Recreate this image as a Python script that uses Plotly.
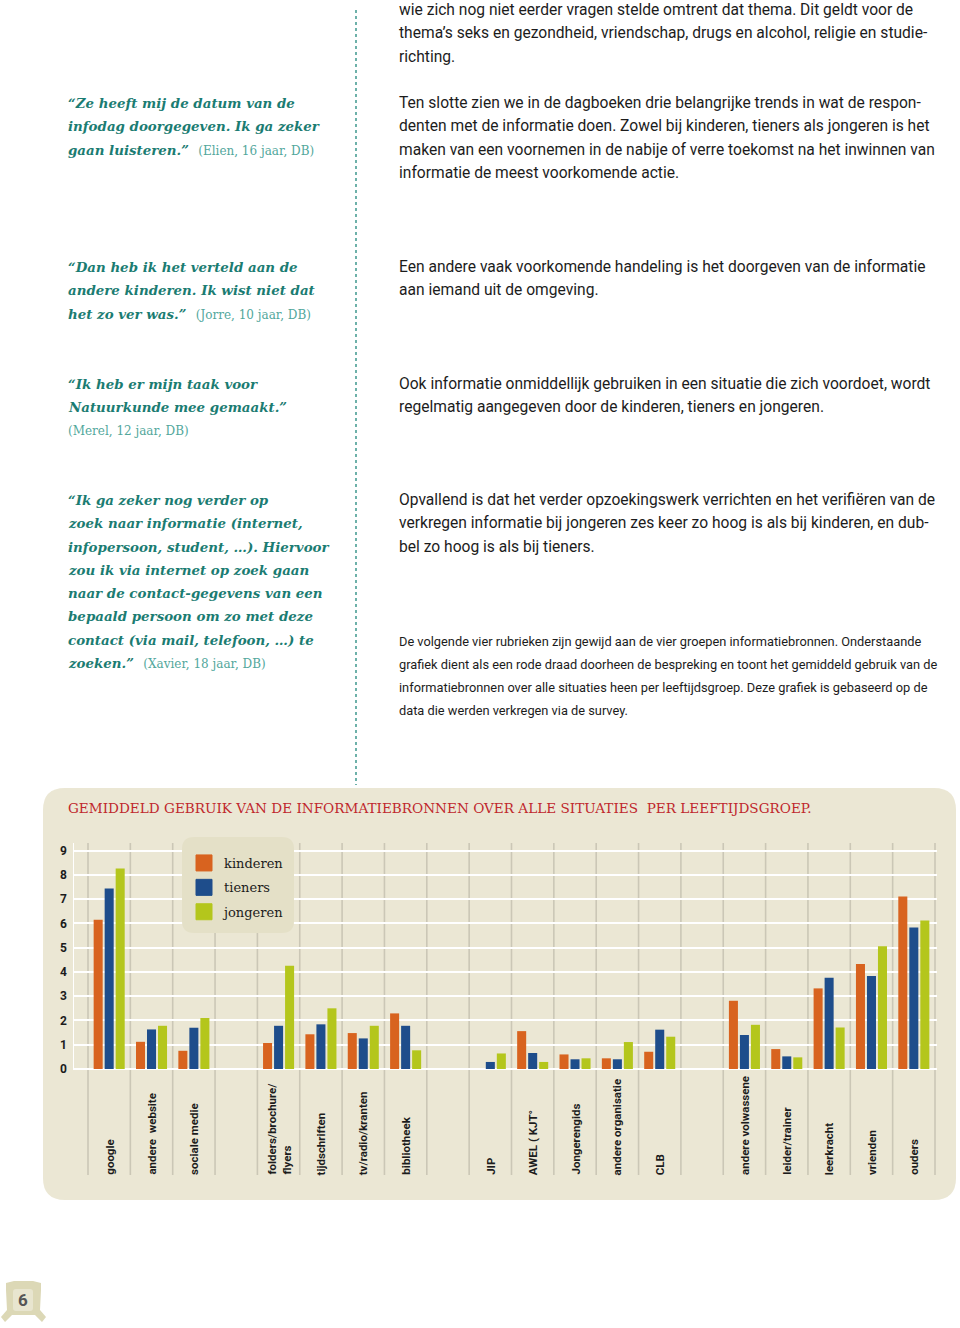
import plotly.graph_objects as go

W, H = 960, 1328

# ---------------- data ----------------
categories = [
    "google", "andere  website", "sociale medie",
    "folders/brochure/<br>flyers", "tijdschriften", "tv/radio/kranten", "bibliotheek",
    "JIP", "AWEL ( KJT°", "Jongerengids", "andere organisatie", "CLB",
    "andere volwassene", "leider/trainer", "leerkracht", "vrienden", "ouders",
]
group_of = [0, 0, 0, 1, 1, 1, 1, 2, 2, 2, 2, 2, 3, 3, 3, 3, 3]
kinderen = [6.15, 1.12, 0.75, 1.07, 1.43, 1.48, 2.29, 0.0, 1.56, 0.60, 0.44, 0.71, 2.81, 0.82, 3.32, 4.33, 7.11]
tieners = [7.43, 1.63, 1.70, 1.78, 1.84, 1.26, 1.78, 0.29, 0.66, 0.40, 0.40, 1.62, 1.40, 0.52, 3.76, 3.83, 5.83]
jongeren = [8.26, 1.78, 2.10, 4.25, 2.50, 1.78, 0.77, 0.64, 0.29, 0.44, 1.11, 1.33, 1.82, 0.48, 1.71, 5.06, 6.12]
series_names = ["kinderen", "tieners", "jongeren"]
series_colors = ["#d8631f", "#1e4d8b", "#b4c61c"]
y_ticks = list(range(10))

chart_title = "GEMIDDELD GEBRUIK VAN DE INFORMATIEBRONNEN OVER ALLE SITUATIES  PER LEEFTIJDSGROEP."

body_paragraphs = [
    (10, ["wie zich nog niet eerder vragen stelde omtrent dat thema. Dit geldt voor de",
          "thema’s seks en gezondheid, vriendschap, drugs en alcohol, religie en studie-",
          "richting."]),
    (103, ["Ten slotte zien we in de dagboeken drie belangrijke trends in wat de respon-",
           "denten met de informatie doen. Zowel bij kinderen, tieners als jongeren is het",
           "maken van een voornemen in de nabije of verre toekomst na het inwinnen van",
           "informatie de meest voorkomende actie."]),
    (267, ["Een andere vaak voorkomende handeling is het doorgeven van de informatie",
           "aan iemand uit de omgeving."]),
    (384, ["Ook informatie onmiddellijk gebruiken in een situatie die zich voordoet, wordt",
           "regelmatig aangegeven door de kinderen, tieners en jongeren."]),
    (500, ["Opvallend is dat het verder opzoekingswerk verrichten en het verifiëren van de",
           "verkregen informatie bij jongeren zes keer zo hoog is als bij kinderen, en dub-",
           "bel zo hoog is als bij tieners."]),
]
small_paragraph = (641, [
    "De volgende vier rubrieken zijn gewijd aan de vier groepen informatiebronnen. Onderstaande",
    "grafiek dient als een rode draad doorheen de bespreking en toont het gemiddeld gebruik van de",
    "informatiebronnen over alle situaties heen per leeftijdsgroep. Deze grafiek is gebaseerd op de",
    "data die werden verkregen via de survey.",
])

quotes = [
    (103, ["“Ze heeft mij de datum van de", "infodag doorgegeven. Ik ga zeker", "gaan luisteren.”"],
     "(Elien, 16 jaar, DB)", False),
    (267, ["“Dan heb ik het verteld aan de", "andere kinderen. Ik wist niet dat", "het zo ver was.”"],
     "(Jorre, 10 jaar, DB)", False),
    (384, ["“Ik heb er mijn taak voor", "Natuurkunde mee gemaakt.”"],
     "(Merel, 12 jaar, DB)", True),
    (500, ["“Ik ga zeker nog verder op", "zoek naar informatie (internet,",
           "infopersoon, student, …). Hiervoor", "zou ik via internet op zoek gaan",
           "naar de contact-gegevens van een", "bepaald persoon om zo met deze",
           "contact (via mail, telefoon, …) te", "zoeken.”"],
     "(Xavier, 18 jaar, DB)", False),
]
page_number = "6"

# ---------------- styling ----------------
PANEL = "#ebe7d4"
LEGEND_BG = "#e4e0c7"
SEP = "#cbc7b6"
TEAL = "#1b7c72"
TEAL_LIGHT = "#52a79c"
RED = "#c0272d"
TXT = "#1c1c1c"
SANS = "Roboto, Liberation Sans, sans-serif"
SERIF = "DejaVu Serif, serif"
LH = 23.3


def px(x):
    return x / W


def py(y):
    return 1 - y / H


def rrect(x0, y0, x1, y1, r):
    pts = [
        ("M", [(x0 + r, y0)]), ("L", [(x1 - r, y0)]), ("Q", [(x1, y0), (x1, y0 + r)]),
        ("L", [(x1, y1 - r)]), ("Q", [(x1, y1), (x1 - r, y1)]), ("L", [(x0 + r, y1)]),
        ("Q", [(x0, y1), (x0, y1 - r)]), ("L", [(x0, y0 + r)]), ("Q", [(x0, y0), (x0 + r, y0)]),
    ]
    s = ""
    for cmd, ps in pts:
        s += cmd + " ".join(f"{px(a):.5f},{py(b):.5f}" for a, b in ps) + " "
    return s + "Z"


# plot-area geometry (pixels)
X_L, X_R = 73, 937
SEP_FIRST, SEP_LAST = 88, 935
Y_TOP, Y_BOT = 843, 1175
Y_ZERO, Y_NINE = 1069, 850.5

positions = [i + g for i, g in enumerate(group_of)]
n_slots = positions[-1] + 1
slot_px = (SEP_LAST - SEP_FIRST) / n_slots
x_range = [-0.5 - (SEP_FIRST - X_L) / slot_px, n_slots - 0.5 + (X_R - SEP_LAST) / slot_px]
unit_px = (Y_ZERO - Y_NINE) / 9
y_range = [-(Y_BOT - Y_ZERO) / unit_px, (Y_ZERO - Y_TOP) / unit_px]

fig = go.Figure()
for name, vals, col in zip(series_names, [kinderen, tieners, jongeren], series_colors):
    fig.add_bar(x=positions, y=vals, name=name, marker=dict(color=col, line=dict(width=0)),
                showlegend=False, legendgroup=name, hoverinfo="skip")
for name, col in zip(series_names, series_colors):
    fig.add_scatter(x=[None], y=[None], mode="markers", name=name, legendgroup=name,
                    marker=dict(symbol="square", size=16, color=col, line=dict(width=1, color=col)))

shapes = []
# chart panel
shapes.append(dict(type="path", path=rrect(43, 788, 956, 1200, 22), xref="paper", yref="paper",
                   fillcolor=PANEL, line=dict(width=0), layer="below"))
# slot separators
for b in range(n_slots + 1):
    shapes.append(dict(type="line", xref="x", yref="paper", x0=b - 0.5, x1=b - 0.5,
                       y0=py(Y_BOT), y1=py(Y_TOP), line=dict(color=SEP, width=1.6), layer="below"))
# y axis line (white)
shapes.append(dict(type="line", xref="x", yref="y", x0=x_range[0], x1=x_range[0],
                   y0=0, y1=y_range[1], line=dict(color="white", width=2), layer="between"))
# legend box
shapes.append(dict(type="path", path=rrect(182, 837, 294, 933, 12), xref="paper", yref="paper",
                   fillcolor=LEGEND_BG, line=dict(width=0), layer="above"))
# dotted column divider
shapes.append(dict(type="line", xref="paper", yref="paper", x0=px(356), x1=px(356),
                   y0=py(10), y1=py(785), line=dict(color="#4a9e95", width=1.6, dash="dot")))
# page-number badge
badge = [(6, 1290), (6, 1283), (14, 1281), (33, 1281), (41, 1283), (41, 1290), (40, 1310),
         (46, 1317), (42, 1322), (35, 1315), (12, 1315), (5, 1322), (1, 1317), (7, 1310)]
bpath = "M" + " L".join(f"{px(a):.5f},{py(b):.5f}" for a, b in badge) + " Z"
shapes.append(dict(type="path", path=bpath, xref="paper", yref="paper",
                   fillcolor="#dcd8b6", line=dict(width=0)))
shapes.append(dict(type="path", path=rrect(13, 1289, 33, 1311, 3), xref="paper", yref="paper",
                   fillcolor="#e8e5cf", line=dict(width=0)))

annotations = []


def add_text(x, y, text, size, color, family, weight="normal"):
    annotations.append(dict(x=px(x), y=py(y), xref="paper", yref="paper", text=text,
                            showarrow=False, xanchor="left", yanchor="middle",
                            font=dict(size=size, color=color, family=family, weight=weight)))


for y0, lines in body_paragraphs:
    for i, line in enumerate(lines):
        add_text(397, y0 + i * LH, line, 15.6, TXT, SANS)
y0, lines = small_paragraph
for i, line in enumerate(lines):
    add_text(397, y0 + i * LH, line, 12.8, TXT, SANS)

attr_style = f"font-style:normal;font-weight:normal;font-size:12px;color:{TEAL_LIGHT}"
for y0, lines, attr, own_line in quotes:
    for i, line in enumerate(lines):
        txt = f"<i>{line}</i>"
        if i == len(lines) - 1 and not own_line:
            txt += f"  <span style='{attr_style}'>{attr}</span>"
        add_text(66, y0 + i * LH, txt, 13.4, TEAL, SERIF, weight="bold")
    if own_line:
        add_text(66, y0 + len(lines) * LH, attr, 12, TEAL_LIGHT, SERIF)

add_text(66, 808, chart_title, 13.6, RED, SERIF)
annotations.append(dict(x=px(23), y=py(1300), xref="paper", yref="paper", text=page_number,
                        showarrow=False, xanchor="center", yanchor="middle",
                        font=dict(size=17, color="#555555", family=SANS, weight="bold")))

# category labels: rotated, bottom-aligned under each slot
for pos, cat in zip(positions, categories):
    annotations.append(dict(x=pos, y=py(Y_BOT + 1), xref="x", yref="paper", text=cat,
                            textangle=-90, showarrow=False, xanchor="center", yanchor="bottom",
                            align="left", borderpad=0,
                            font=dict(family=SANS, size=11.5, color=TXT, weight="bold")))

fig.update_layout(
    width=W, height=H, autosize=False,
    margin=dict(l=0, r=0, t=0, b=0, pad=0),
    paper_bgcolor="white", plot_bgcolor="rgba(0,0,0,0)",
    barmode="group", bargap=0.22, bargroupgap=0.18,
    xaxis=dict(domain=[px(X_L), px(X_R)], range=x_range, tickmode="array",
               tickvals=positions, showticklabels=False, showgrid=False, zeroline=False,
               showline=False, ticks="", fixedrange=True),
    yaxis=dict(domain=[1 - Y_BOT / H, 1 - Y_TOP / H], range=y_range, tickmode="array",
               tickvals=y_ticks, showgrid=True, gridcolor="white", gridwidth=1.5,
               zeroline=True, zerolinecolor="white", zerolinewidth=2, showline=False,
               ticks="", ticklabelstandoff=5,
               tickfont=dict(family=SANS, size=12, color=TXT, weight="bold"), fixedrange=True),
    legend=dict(x=px(184), y=py(848), xanchor="left", yanchor="top", bgcolor="rgba(0,0,0,0)",
                borderwidth=0, font=dict(family=SERIF, size=13, color=TXT),
                tracegroupgap=4.5, itemclick=False, itemdoubleclick=False),
    shapes=shapes,
    annotations=annotations,
    showlegend=True,
)

fig.write_html("out.html", config={"displayModeBar": False},
               post_script="document.body.style.margin='0';")
